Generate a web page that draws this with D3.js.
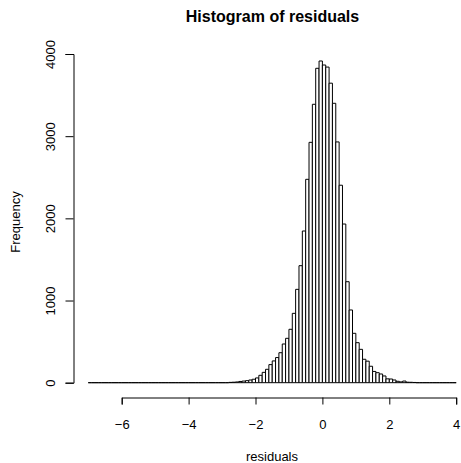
<!DOCTYPE html>
<html>
<head>
<meta charset="utf-8">
<script src="https://cdn.jsdelivr.net/npm/d3@7"></script>
<style>
  body { margin: 0; background: #fff; }
  svg text { font-family: "Liberation Sans", Arial, sans-serif; fill: #000; }
</style>
</head>
<body>
<div id="chart"></div>
<script>
// histogram breaks: first break and bin width
var breakMin = -7;
var breakStep = 0.1;

// counts per bin, -7.0 .. 4.0 (110 bins)
var counts = [
    0, 0, 0, 0, 0, 0, 0, 0, 0, 0,          // -7.0 .. -6.1
    0, 0, 0, 0, 0, 0, 0, 0, 0, 0,          // -6.0 .. -5.1
    0, 0, 0, 0, 0, 0, 0, 0, 0, 0,          // -5.0 .. -4.1
    0, 0, 0, 0, 0, 0, 0, 0, 0, 0,          // -4.0 .. -3.1
    0, 0,                                  // -3.0 .. -2.9
    4, 6, 9, 15, 20, 25, 33, 42,           // -2.8 .. -2.1
    58, 90, 126, 163, 220, 265, 306, 365,  // -2.0 .. -1.3
    471, 540, 650, 844, 1136, 1424, 1846, 2475, // -1.2 .. -0.5
    2925, 3388, 3826, 3915,                // -0.4 .. -0.1
    3866, 3841, 3645, 3400, 2930, 2403, 1931, 1229, // 0.0 .. 0.7
    885, 601, 487, 406, 285, 262, 200, 137, // 0.8 .. 1.5
    122, 106, 82, 47, 45, 33, 17, 10,      // 1.6 .. 2.3
    20, 6, 5, 3,                           // 2.4 .. 2.7
    0, 0, 0, 0, 0, 0, 0, 0, 0, 0, 0, 0     // 2.8 .. 3.9
];

var xTicks = [-6, -4, -2, 0, 2, 4];
var yTicks = [0, 1000, 2000, 3000, 4000];

var titleText = "Histogram of residuals";
var xLabel = "residuals";
var yLabel = "Frequency";

var width = 461, height = 463;

var svg = d3.select("#chart")
    .append("svg")
    .attr("width", width)
    .attr("height", height);

var x = d3.scaleLinear().domain([-6, 4]).range([121.7, 456.2]);
var y = d3.scaleLinear().domain([0, 4000]).range([382.7, 54]);

var bins = counts.map(function (c, i) {
    var x0 = breakMin + i * breakStep;
    return { x0: x0, x1: x0 + breakStep, n: c };
});

// bars (paths so that empty bins still draw their baseline)
svg.append("g")
    .selectAll("path")
    .data(bins)
    .enter()
    .append("path")
    .attr("d", function (d) {
        var a = x(d.x0), b = x(d.x1), y0 = y(0), y1 = y(d.n);
        return "M" + a + "," + y0 + "V" + y1 + "H" + b + "V" + y0 + "Z";
    })
    .attr("fill", "#fff")
    .attr("stroke", "#000")
    .attr("stroke-width", 1);

// x axis
var xAxis = svg.append("g")
    .attr("transform", "translate(0,397.5)")
    .call(d3.axisBottom(x).tickValues(xTicks).tickSizeOuter(0).tickSize(7));
xAxis.selectAll("text")
    .attr("y", 31)
    .attr("dy", 0)
    .style("font-size", "13px");

// y axis
var yAxis = svg.append("g")
    .attr("transform", "translate(73.5,0)")
    .call(d3.axisLeft(y).tickValues(yTicks).tickFormat(d3.format("d"))
        .tickSizeOuter(0).tickSize(8));
yAxis.selectAll("text")
    .attr("x", 0)
    .attr("y", 0)
    .attr("dy", 0)
    .attr("text-anchor", "middle")
    .attr("transform", "translate(-18.5,0) rotate(-90)")
    .style("font-size", "13px");

svg.selectAll(".domain, .tick line").attr("stroke", "#000");

// titles
svg.append("text")
    .attr("x", 272.5)
    .attr("y", 21.7)
    .attr("text-anchor", "middle")
    .style("font-size", "16px")
    .style("font-weight", "bold")
    .text(titleText);

svg.append("text")
    .attr("x", 272)
    .attr("y", 460.5)
    .attr("text-anchor", "middle")
    .style("font-size", "13px")
    .text(xLabel);

svg.append("text")
    .attr("transform", "translate(20,222) rotate(-90)")
    .attr("text-anchor", "middle")
    .style("font-size", "13px")
    .text(yLabel);
</script>
</body>
</html>
